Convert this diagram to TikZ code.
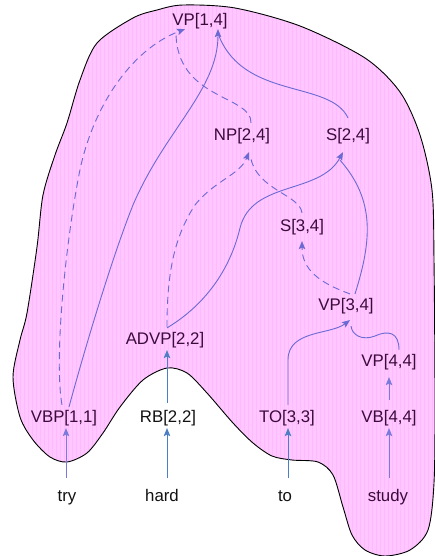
\documentclass[tikz,border=0pt]{standalone}
\usepackage{fontspec}
\setmainfont{Liberation Sans}
\usetikzlibrary{arrows.meta}
\definecolor{blobfill}{HTML}{FFC6FF}
\definecolor{gridc}{HTML}{FFB9FF}
\definecolor{edgec}{HTML}{6A6AD2}
\definecolor{lavc}{HTML}{7A7ADC}
\definecolor{bluec}{HTML}{4A7EC6}
\definecolor{inkin}{HTML}{3A0C3A}
\definecolor{inkout}{HTML}{111111}
\begin{document}
\begin{tikzpicture}[x=1pt,y=-1pt,
  lab/.style={inner sep=0pt, text height=12.3pt, text depth=3.5pt, font=\fontsize{16.8pt}{20pt}\selectfont, text=inkin},
  labout/.style={lab, text=inkout},
  tip/.style={-{Stealth[length=8pt,width=6.5pt,inset=1.5pt]}},
  conn/.style={draw=edgec, line width=0.9pt},
  hyp/.style={conn, tip},
  dsh/.style={dash pattern=on 7pt off 4.5pt},
  vert/.style={draw=lavc, line width=0.9pt, tip},
  vertb/.style={draw=bluec, line width=0.9pt, tip}]
\useasboundingbox (0,0) rectangle (435,556);
% blob
\begin{scope}
\clip plot[smooth cycle] coordinates {(183,5) (235,8) (300,26) (365,58) (400,92) (420,135) (432,190) (434,260) (435,400) (434,483) (428,530) (410,550) (385,556) (365,550) (352,535) (343,507) (333,475) (318,462) (292,460) (272,456) (253,443) (233,423) (207,393) (187,373) (167,368) (143,380) (120,407) (103,433) (87,453) (67,462) (50,457) (33,440) (20,417) (13,377) (20,340) (27,313) (37,247) (43,195) (55,155) (67,123) (80,80) (97,43) (133,18) (157,10)};
\fill[blobfill] (0,0) rectangle (440,560);
\draw[gridc, line width=0.3pt, step=4] (0,0) grid (440,560);
\end{scope}
\draw[line width=0.9pt] plot[smooth cycle] coordinates {(183,5) (235,8) (300,26) (365,58) (400,92) (420,135) (432,190) (434,260) (435,400) (434,483) (428,530) (410,550) (385,556) (365,550) (352,535) (343,507) (333,475) (318,462) (292,460) (272,456) (253,443) (233,423) (207,393) (187,373) (167,368) (143,380) (120,407) (103,433) (87,453) (67,462) (50,457) (33,440) (20,417) (13,377) (20,340) (27,313) (37,247) (43,195) (55,155) (67,123) (80,80) (97,43) (133,18) (157,10)};
% nodes
\node[lab] (VP14) at (200,21) {VP[1,4]};
\node[lab] (NP24) at (242,136) {NP[2,4]};
\node[lab] (S24) at (348,136) {S[2,4]};
\node[lab] (S34) at (302,227) {S[3,4]};
\node[lab] (VP34) at (346,306) {VP[3,4]};
\node[lab] (ADVP) at (165,340) {ADVP[2,2]};
\node[lab] (VP44) at (389,362) {VP[4,4]};
\node[lab] (VBP) at (64,418) {VBP[1,1]};
\node[labout] (RB) at (168,418) {RB[2,2]};
\node[lab] (TO) at (287,418) {TO[3,3]};
\node[lab] (VB) at (389,418) {VB[4,4]};
\node[labout] (wtry) at (67,497.5) {try};
\node[labout] (whard) at (162,497.5) {hard};
\node[labout] (wto) at (285,497.5) {to};
\node[lab] (wstudy) at (388,497.5) {study};
% hyperedges
\draw[hyp,dsh] ([xshift=-2pt,yshift=5pt]VBP.north) .. controls (54,360) and (65,250) .. (78,180) .. controls (90,110) and (130,50) .. ([xshift=-15pt]VP14.south);
\draw[conn,dsh] ([xshift=9pt,yshift=5pt]NP24.north) .. controls (252,95) and (176,100) .. ([xshift=-24pt,yshift=-3pt]VP14.south);
\draw[hyp] ([xshift=5pt,yshift=3pt]VBP.north) .. controls (90,330) and (115,250) .. (133,205) .. controls (165,130) and (218,90) .. ([xshift=18pt]VP14.south);
\draw[conn] ([yshift=10pt]S24.north) .. controls (330,80) and (245,100) .. ([xshift=19pt,yshift=-7pt]VP14.south);
\draw[hyp,dsh] ([xshift=2pt,yshift=5pt]ADVP.north) .. controls (167,280) and (172,240) .. (195,205) .. controls (215,180) and (240,175) .. ([xshift=7pt,yshift=-8pt]NP24.south);
\draw[conn,dsh] ([yshift=6pt]S34.north) .. controls (300,195) and (258,190) .. ([xshift=9pt,yshift=-15pt]NP24.south);
\draw[hyp] ([xshift=2pt,yshift=4pt]ADVP.north) .. controls (205,305) and (230,270) .. (240,228) .. controls (252,180) and (320,195) .. ([xshift=-5pt,yshift=-8pt]S24.south);
\draw[conn] ([xshift=9pt,yshift=4pt]VP34.north) .. controls (372,240) and (375,200) .. ([xshift=-8pt,yshift=-16pt]S24.south);
\draw[hyp,dsh] ([xshift=4pt,yshift=4pt]VP34.north) .. controls (320,283) and (302,270) .. ([yshift=-6pt]S34.south);
\draw[hyp] ([xshift=1pt,yshift=5pt]TO.north) -- (288,360) .. controls (288,330) and (330,335) .. ([xshift=4pt,yshift=-6pt]VP34.south);
\draw[conn] ([xshift=10pt,yshift=4pt]VP44.north) .. controls (399,332) and (388,330) .. (375,336) .. controls (362,341) and (352,335) .. ([xshift=5pt,yshift=-12pt]VP34.south);
\draw[vert] ([yshift=10pt]VB.north) -- ([yshift=-7pt]VP44.south);
% words to tags
\draw[vert] ([xshift=-1pt,yshift=11pt]wtry.north) -- ([xshift=2pt,yshift=-2pt]VBP.south);
\draw[vertb] ([xshift=5pt,yshift=11pt]whard.north) -- ([xshift=-1pt,yshift=-2pt]RB.south);
\draw[vertb] ([xshift=-1pt,yshift=7pt]RB.north) -- ([xshift=2pt,yshift=-2pt]ADVP.south);
\draw[vertb] ([xshift=3pt,yshift=11pt]wto.north) -- ([xshift=1pt,yshift=-2pt]TO.south);
\draw[vert] ([xshift=1pt,yshift=11pt]wstudy.north) -- ([yshift=-2pt]VB.south);
\end{tikzpicture}
\end{document}
